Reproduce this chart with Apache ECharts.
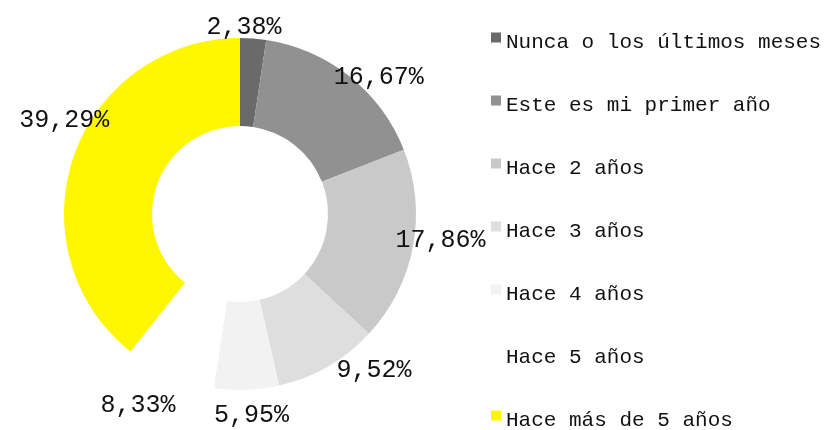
<!DOCTYPE html>
<html>
<head>
<meta charset="utf-8">
<script src="https://cdn.jsdelivr.net/npm/echarts@6/dist/echarts.min.js"></script>
<style>html,body{margin:0;padding:0;background:#fff;}#c{width:825px;height:430px;}</style>
</head>
<body>
<div id="c"></div>
<script>
const categories = ['Nunca o los últimos meses', 'Este es mi primer año', 'Hace 2 años', 'Hace 3 años', 'Hace 4 años', 'Hace 5 años', 'Hace más de 5 años'];
const values = [2.38, 16.67, 17.86, 9.52, 5.95, 8.33, 39.29];
const colors = ['#6a6a6a', '#919191', '#c9c9c9', '#dedede', '#f2f2f2', '#ffffff', '#fff700'];
// small label nudges (px) relative to a point on the mid-angle ray
const labelNudge = [[-11, 13], [14, 20], [4, -11], [34, -17], [4, 2], [-22, 8], [13, -28]];

const CX = 240, CY = 214, LABEL_R = 200;
const total = values.reduce((a, b) => a + b, 0);
const midAngles = [];
let acc = 0;
values.forEach(v => { midAngles.push((acc + v / 2) / total * 2 * Math.PI); acc += v; });

const chart = echarts.init(document.getElementById('c'), null, {renderer: 'canvas'});
chart.setOption({
  animation: false,
  legend: {
    orient: 'vertical',
    left: 486,
    top: 27,
    height: 420,
    padding: 5,
    itemWidth: 10,
    itemHeight: 20,
    itemGap: 42,
    icon: 'path://M0,0h10v10h-10z M0,20',
    selectedMode: false,
    data: categories,
    textStyle: {fontFamily: 'Liberation Mono', fontSize: 21, color: '#111'}
  },
  series: [{
    type: 'pie',
    center: [CX, CY],
    radius: [88, 176],
    startAngle: 90,
    clockwise: true,
    avoidLabelOverlap: false,
    emphasis: {disabled: true},
    label: {
      show: true,
      position: 'outside',
      formatter: p => p.value.toFixed(2).replace('.', ',') + '%',
      fontFamily: 'Liberation Mono',
      fontSize: 25,
      color: '#111'
    },
    labelLine: {show: false, length: 0, length2: 0},
    labelLayout: function (p) {
      const i = p.dataIndex;
      const a = midAngles[i];
      return {
        x: CX + LABEL_R * Math.sin(a) + labelNudge[i][0],
        y: CY - LABEL_R * Math.cos(a) + labelNudge[i][1],
        align: 'center',
        verticalAlign: 'middle'
      };
    },
    data: categories.map((c, i) => ({name: c, value: values[i], itemStyle: {color: colors[i]}}))
  }]
});
</script>
</body>
</html>
